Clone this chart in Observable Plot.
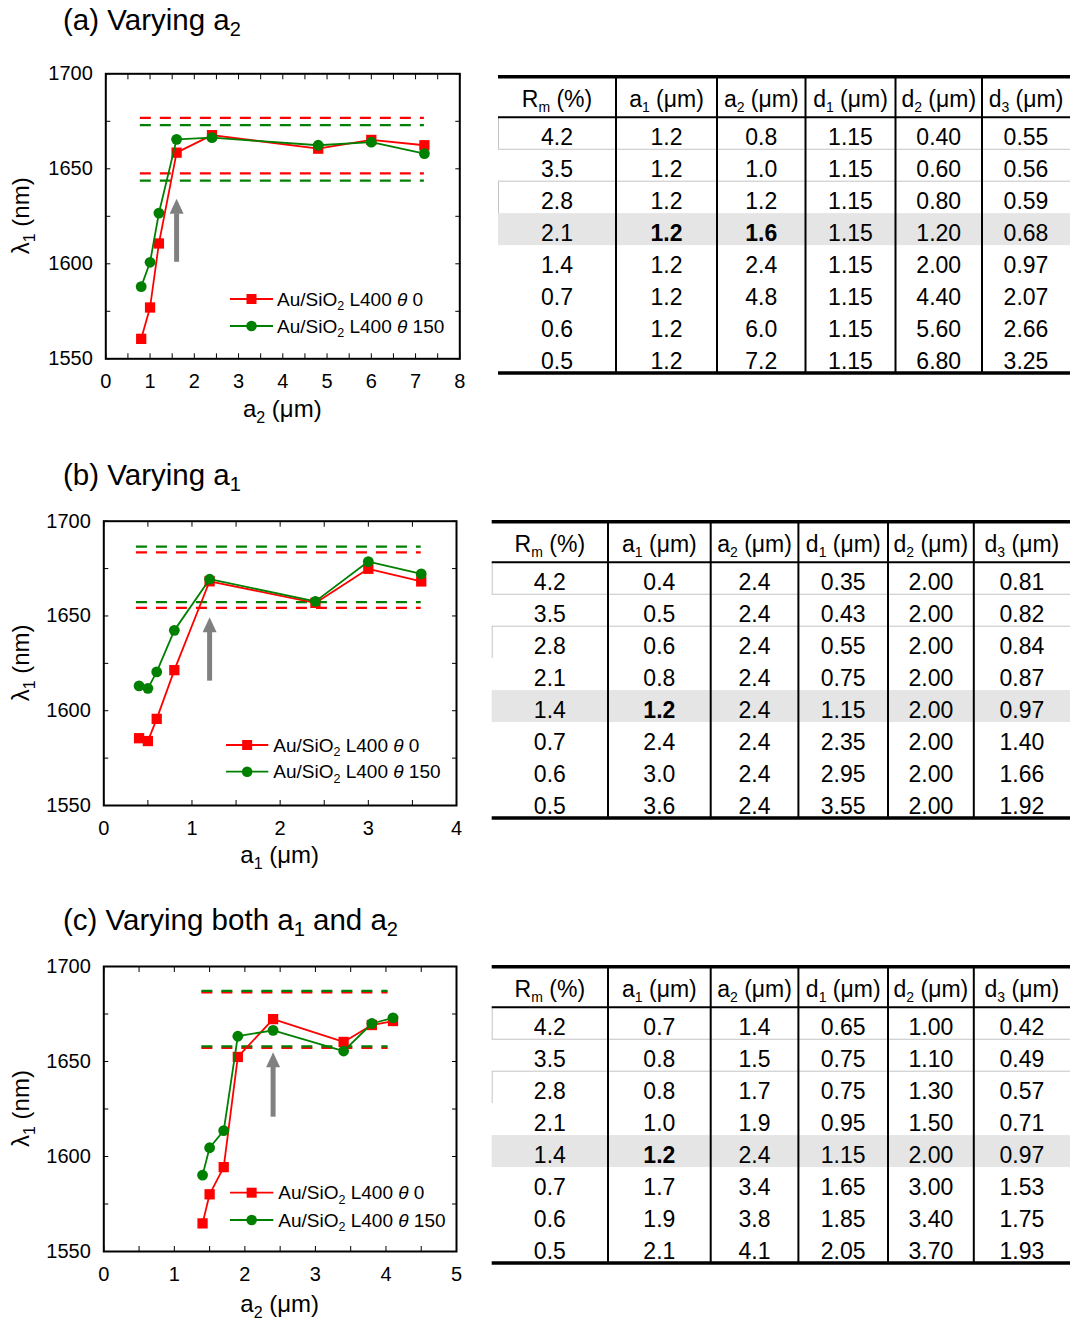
<!DOCTYPE html>
<html>
<head>
<meta charset="utf-8">
<script src="https://cdn.jsdelivr.net/npm/d3@7"></script>
<script src="https://cdn.jsdelivr.net/npm/@observablehq/plot@0.6"></script>
<style>
  body { margin: 0; background: #fff; }
  #page { position: relative; width: 1070px; height: 1323px; overflow: hidden; background: #fff;
          font-family: "Liberation Sans", Arial, Helvetica, sans-serif; color: #000; }
  .title { position: absolute; font-size: 29.5px; line-height: 1; white-space: nowrap; }
  .title sub { font-size: 0.68em; vertical-align: -0.3em; line-height: 0; }
  .panel { position: absolute; left: 0; }
  .panel svg { display: block; }
  #tables { position: absolute; left: 0; top: 0; }
</style>
</head>
<body>
<div id="page"></div>
<script>
// ---------------- DATA ----------------
const rmCol = ["4.2", "3.5", "2.8", "2.1", "1.4", "0.7", "0.6", "0.5"];

// (a) varying a2
const a1ColA = ["1.2", "1.2", "1.2", "1.2", "1.2", "1.2", "1.2", "1.2"];
const a2ColA = ["0.8", "1.0", "1.2", "1.6", "2.4", "4.8", "6.0", "7.2"];
const d1ColA = ["1.15", "1.15", "1.15", "1.15", "1.15", "1.15", "1.15", "1.15"];
const d2ColA = ["0.40", "0.60", "0.80", "1.20", "2.00", "4.40", "5.60", "6.80"];
const d3ColA = ["0.55", "0.56", "0.59", "0.68", "0.97", "2.07", "2.66", "3.25"];
const lambdaTheta0A   = [1560.5, 1577.0, 1610.7, 1658.5, 1667.7, 1660.6, 1665.2, 1662.4];
const lambdaTheta150A = [1588.0, 1600.8, 1626.7, 1665.5, 1666.4, 1662.4, 1664.0, 1658.0];
const bandsA = [
  {s: "theta0",   y: 1676.8, x1: 0.78, x2: 7.2},
  {s: "theta150", y: 1673.0, x1: 0.78, x2: 7.2},
  {s: "theta0",   y: 1647.6, x1: 0.78, x2: 7.2},
  {s: "theta150", y: 1643.8, x1: 0.78, x2: 7.2}
];
const arrowA = {x: 1.6, y1: 1600.8, y2: 1626.3};

// (b) varying a1
const a1ColB = ["0.4", "0.5", "0.6", "0.8", "1.2", "2.4", "3.0", "3.6"];
const a2ColB = ["2.4", "2.4", "2.4", "2.4", "2.4", "2.4", "2.4", "2.4"];
const d1ColB = ["0.35", "0.43", "0.55", "0.75", "1.15", "2.35", "2.95", "3.55"];
const d2ColB = ["2.00", "2.00", "2.00", "2.00", "2.00", "2.00", "2.00", "2.00"];
const d3ColB = ["0.81", "0.82", "0.84", "0.87", "0.97", "1.40", "1.66", "1.92"];
const lambdaTheta0B   = [1585.5, 1584.0, 1595.7, 1621.4, 1668.3, 1656.9, 1674.9, 1668.2];
const lambdaTheta150B = [1613.1, 1611.8, 1620.5, 1642.4, 1669.4, 1657.7, 1678.7, 1672.2];
const bandsB = [
  {s: "theta0",   y: 1683.6, x1: 0.37, x2: 3.6},
  {s: "theta150", y: 1686.6, x1: 0.37, x2: 3.6},
  {s: "theta0",   y: 1654.3, x1: 0.37, x2: 3.6},
  {s: "theta150", y: 1657.3, x1: 0.37, x2: 3.6}
];
const arrowB = {x: 1.2, y1: 1615.6, y2: 1641.4};

// (c) varying both a1 and a2
const a1ColC = ["0.7", "0.8", "0.8", "1.0", "1.2", "1.7", "1.9", "2.1"];
const a2ColC = ["1.4", "1.5", "1.7", "1.9", "2.4", "3.4", "3.8", "4.1"];
const d1ColC = ["0.65", "0.75", "0.75", "0.95", "1.15", "1.65", "1.85", "2.05"];
const d2ColC = ["1.00", "1.10", "1.30", "1.50", "2.00", "3.00", "3.40", "3.70"];
const d3ColC = ["0.42", "0.49", "0.57", "0.71", "0.97", "1.53", "1.75", "1.93"];
const lambdaTheta0C   = [1564.8, 1580.1, 1594.4, 1652.4, 1672.3, 1660.3, 1669.2, 1671.3];
const lambdaTheta150C = [1590.2, 1604.6, 1613.6, 1663.3, 1666.4, 1655.5, 1670.0, 1673.0];
const bandsC = [
  {s: "theta0",   y: 1686.4, x1: 1.39, x2: 4.03},
  {s: "theta150", y: 1687.2, x1: 1.39, x2: 4.03},
  {s: "theta0",   y: 1657.2, x1: 1.39, x2: 4.03},
  {s: "theta150", y: 1658.0, x1: 1.39, x2: 4.03}
];
const arrowC = {x: 2.4, y1: 1620.7, y2: 1647.0};

const yTicksMajor = [1550, 1600, 1650, 1700];
const tableHeaders = [["R", "m", " (%)"], ["a", "1", " (μm)"], ["a", "2", " (μm)"],
                      ["d", "1", " (μm)"], ["d", "2", " (μm)"], ["d", "3", " (μm)"]];
const legendLabels = [["Au/SiO", "2", " L400 ", "θ", " 0"], ["Au/SiO", "2", " L400 ", "θ", " 150"]];
const titles = [
  [["(a) Varying a", "2"]],
  [["(b) Varying a", "1"]],
  [["(c) Varying both a", "1"], [" and a", "2"]]
];

// ---------------- STYLE ----------------
const FONT = '"Liberation Sans", Arial, Helvetica, sans-serif';
const RED = "#ff0000", GREEN = "#008000", GRAY = "#808080";
const headSymbol = {draw(ctx) { ctx.moveTo(-7, 0); ctx.lineTo(7, 0); ctx.lineTo(0, -15); ctx.closePath(); }};

const page = document.getElementById("page");

// titles
const titleTops = [5, 460, 905];
titles.forEach((parts, k) => {
  const div = document.createElement("div");
  div.className = "title";
  div.style.left = "63px";
  div.style.top = titleTops[k] + "px";
  parts.forEach(([main, sub]) => {
    div.appendChild(document.createTextNode(main));
    const s = document.createElement("sub");
    s.textContent = sub;
    div.appendChild(s);
  });
  page.appendChild(div);
});

// ---------------- CHARTS ----------------
function drawChart(p) {
  const rows = p.xs.map((x, i) => ({x, t0: p.t0[i], t150: p.t150[i]}));
  const xMinor = d3.range(0, p.xmax + 1e-9, 0.5);
  const xMajor = d3.range(0, p.xmax + 1e-9, 1);
  const yMinor = d3.range(1550, 1700 + 1e-9, 25);
  const fmt = d => String(d);
  const band = (s, color) => Plot.ruleY(p.bands.filter(d => d.s === s),
    {y: "y", x1: "x1", x2: "x2", stroke: color, strokeWidth: 2.3, strokeDasharray: "11,9"});
  const svg = Plot.plot({
    width: p.W, height: p.H,
    marginTop: p.m.t, marginRight: p.m.r, marginBottom: p.m.b, marginLeft: p.m.l,
    style: {fontFamily: FONT, fontSize: "20px", color: "#000", background: "transparent", overflow: "visible"},
    x: {domain: [0, p.xmax]},
    y: {domain: [1550, 1700]},
    marks: [
      band("theta0", RED),
      band("theta150", GREEN),
      Plot.line(rows, {x: "x", y: "t0", stroke: RED, strokeWidth: 1.8}),
      Plot.dot(rows, {x: "x", y: "t0", symbol: "square", r: 5.8, fill: RED, stroke: "none"}),
      Plot.line(rows, {x: "x", y: "t150", stroke: GREEN, strokeWidth: 1.8}),
      Plot.dot(rows, {x: "x", y: "t150", symbol: "circle", r: 5.4, fill: GREEN, stroke: "none"}),
      Plot.ruleX([p.arrow], {x: "x", y1: "y1", y2: "y2", stroke: GRAY, strokeWidth: 5}),
      Plot.dot([p.arrow], {x: "x", y: "y2", symbol: headSymbol, r: 5, fill: GRAY, stroke: "none"}),
      Plot.axisX({ticks: xMinor, anchor: "bottom", tickSize: -5, fill: "none", label: null}),
      Plot.axisX({ticks: xMinor, anchor: "top", tickSize: -5, fill: "none", label: null}),
      Plot.axisY({ticks: yMinor, anchor: "left", tickSize: -5, fill: "none", label: null}),
      Plot.axisY({ticks: yMinor, anchor: "right", tickSize: -5, fill: "none", label: null}),
      Plot.axisX({ticks: xMajor, anchor: "bottom", tickSize: 0, tickPadding: 15, tickFormat: fmt, label: null}),
      Plot.axisY({ticks: yTicksMajor, anchor: "left", tickSize: 0, tickPadding: 13, tickFormat: fmt, label: null}),
      Plot.frame({stroke: "#000", strokeWidth: 2})
    ]
  });

  const s = d3.select(svg);
  const fx0 = p.m.l, fx1 = p.W - p.m.r, fy0 = p.m.t, fy1 = p.H - p.m.b;

  // x axis label
  const xl = s.append("text").attr("x", (fx0 + fx1) / 2).attr("y", p.xLabelY - p.top)
    .attr("text-anchor", "middle").attr("font-size", 24).attr("fill", "#000").style("white-space", "pre");
  xl.append("tspan").text(p.xLabel[0]);
  xl.append("tspan").attr("font-size", 16).attr("dy", 6).text(p.xLabel[1]);
  xl.append("tspan").attr("dy", -6).text(" (μm)");

  // y axis label
  const yl = s.append("text").attr("transform", `translate(29,${(fy0 + fy1) / 2}) rotate(-90)`)
    .attr("text-anchor", "middle").attr("font-size", 24).attr("fill", "#000").style("white-space", "pre");
  yl.append("tspan").text("λ");
  yl.append("tspan").attr("font-size", 16).attr("dy", 6).text("1");
  yl.append("tspan").attr("dy", -6).text(" (nm)");

  // legend
  const colors = [RED, GREEN];
  legendLabels.forEach((lab, k) => {
    const y = p.legend.y[k] - p.top;
    s.append("line").attr("x1", p.legend.x1).attr("x2", p.legend.x2).attr("y1", y).attr("y2", y)
      .attr("stroke", colors[k]).attr("stroke-width", 1.8);
    const mx = (p.legend.x1 + p.legend.x2) / 2;
    if (k === 0) s.append("rect").attr("x", mx - 5).attr("y", y - 5).attr("width", 10).attr("height", 10).attr("fill", RED);
    else s.append("circle").attr("cx", mx).attr("cy", y).attr("r", 5.3).attr("fill", GREEN);
    const t = s.append("text").attr("x", p.legend.tx).attr("y", y + 6.5).attr("font-size", 19)
      .attr("text-anchor", "start").attr("fill", "#000").style("white-space", "pre");
    t.append("tspan").text(lab[0]);
    t.append("tspan").attr("font-size", 12.5).attr("dy", 4.5).text(lab[1]);
    t.append("tspan").attr("dy", -4.5).text(lab[2]);
    t.append("tspan").attr("font-style", "italic").text(lab[3]);
    t.append("tspan").text(lab[4]);
  });

  const wrap = document.createElement("div");
  wrap.className = "panel";
  wrap.style.top = p.top + "px";
  wrap.appendChild(svg);
  page.appendChild(wrap);
}

drawChart({
  xs: a2ColA.map(Number), t0: lambdaTheta0A, t150: lambdaTheta150A, bands: bandsA, arrow: arrowA,
  xmax: 8, top: 40, W: 480, H: 400, m: {t: 33.3, r: 20.7, b: 81.7, l: 105.3},
  xLabel: ["a", "2"], xLabelY: 417,
  legend: {x1: 230, x2: 273, tx: 277, y: [299, 326]}
});
drawChart({
  xs: a1ColB.map(Number), t0: lambdaTheta0B, t150: lambdaTheta150B, bands: bandsB, arrow: arrowB,
  xmax: 4, top: 490, W: 480, H: 400, m: {t: 30.7, r: 24, b: 85, l: 103.3},
  xLabel: ["a", "1"], xLabelY: 863,
  legend: {x1: 226, x2: 268.3, tx: 273.3, y: [745, 771.7]}
});
drawChart({
  xs: a2ColC.map(Number), t0: lambdaTheta0C, t150: lambdaTheta150C, bands: bandsC, arrow: arrowC,
  xmax: 5, top: 935, W: 480, H: 388, m: {t: 31, r: 24, b: 72, l: 103.3},
  xLabel: ["a", "2"], xLabelY: 1312,
  legend: {x1: 230, x2: 273.3, tx: 278.3, y: [1192.7, 1220]}
});

// ---------------- TABLES ----------------
const tsvg = d3.create("svg").attr("id", "tables").attr("width", 1070).attr("height", 1323)
  .style("font-family", FONT);

function drawTable(t) {
  const g = tsvg.append("g");
  const c = t.cols, x0 = c[0], x1 = c[c.length - 1];
  const hb = t.top + t.headerH;
  const rowTop = i => hb + i * t.rowH;
  const n = t.columns[0].length;
  const bottom = rowTop(n);
  g.append("rect").attr("x", x0).attr("y", rowTop(t.hi)).attr("width", x1 - x0).attr("height", t.rowH).attr("fill", "#e5e5e5");
  [1, 2].forEach(i => g.append("line").attr("x1", x0).attr("x2", x1).attr("y1", rowTop(i)).attr("y2", rowTop(i))
    .attr("stroke", "#c4c4c4").attr("stroke-width", 1));
  [0, 2].forEach(i => g.append("line").attr("x1", x0 + 0.5).attr("x2", x0 + 0.5).attr("y1", rowTop(i)).attr("y2", rowTop(i + 1))
    .attr("stroke", "#c4c4c4").attr("stroke-width", 1));
  c.slice(1, -1).forEach(x => g.append("line").attr("x1", x).attr("x2", x).attr("y1", t.top).attr("y2", bottom)
    .attr("stroke", "#000").attr("stroke-width", 2));
  const hline = (y, w) => g.append("line").attr("x1", x0).attr("x2", x1).attr("y1", y).attr("y2", y)
    .attr("stroke", "#000").attr("stroke-width", w);
  hline(t.top, 3.5); hline(hb, 2); hline(bottom, 3.5);
  tableHeaders.forEach((h, j) => {
    const cx = (c[j] + c[j + 1]) / 2;
    const tx = g.append("text").attr("x", cx).attr("y", t.top + 29.8).attr("text-anchor", "middle")
      .attr("font-size", 23).style("white-space", "pre");
    tx.append("tspan").text(h[0]);
    tx.append("tspan").attr("font-size", 14).attr("dy", 5).text(h[1]);
    tx.append("tspan").attr("dy", -5).text(h[2]);
  });
  t.columns.forEach((col, j) => col.forEach((v, i) => {
    const isBold = i === t.hi && t.boldCols.includes(j);
    g.append("text").attr("x", (c[j] + c[j + 1]) / 2).attr("y", rowTop(i) + 27.75)
      .attr("text-anchor", "middle").attr("font-size", 23)
      .attr("font-weight", isBold ? "bold" : "normal").text(v);
  }));
}

drawTable({top: 76.7, headerH: 40.6, rowH: 31.95, cols: [498, 616, 717, 805.5, 895.5, 982, 1070],
  columns: [rmCol, a1ColA, a2ColA, d1ColA, d2ColA, d3ColA], hi: 3, boldCols: [1, 2]});
drawTable({top: 521.7, headerH: 40.6, rowH: 31.95, cols: [491.7, 608, 710.7, 798.4, 888, 973.8, 1070],
  columns: [rmCol, a1ColB, a2ColB, d1ColB, d2ColB, d3ColB], hi: 4, boldCols: [1]});
drawTable({top: 966.7, headerH: 40.6, rowH: 31.95, cols: [491.7, 608, 710.7, 798.4, 888, 973.8, 1070],
  columns: [rmCol, a1ColC, a2ColC, d1ColC, d2ColC, d3ColC], hi: 4, boldCols: [1]});

page.insertBefore(tsvg.node(), page.firstChild);
</script>
</body>
</html>
